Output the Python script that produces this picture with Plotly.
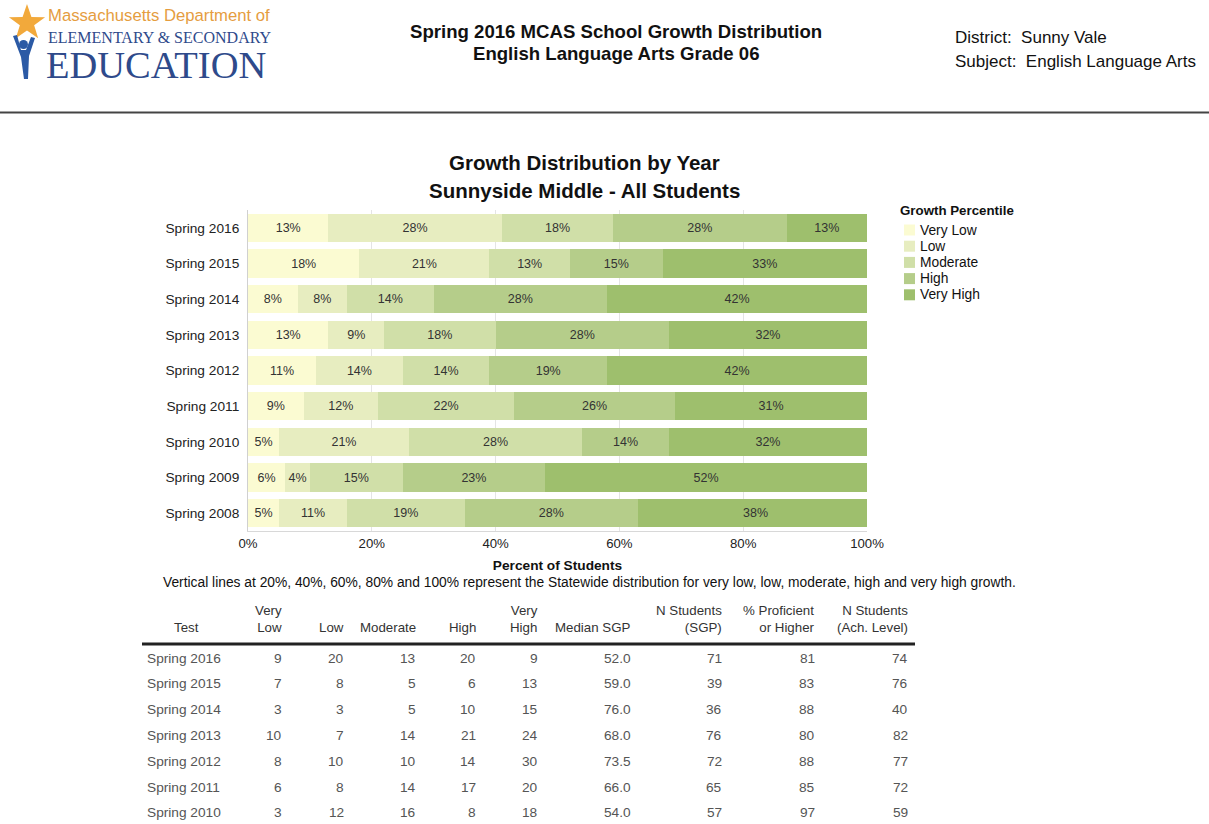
import math
import plotly.graph_objects as go

# ---------------- data ----------------
years = ["Spring 2016", "Spring 2015", "Spring 2014", "Spring 2013", "Spring 2012",
         "Spring 2011", "Spring 2010", "Spring 2009", "Spring 2008"]
growth_levels = ["Very Low", "Low", "Moderate", "High", "Very High"]
pct_very_low = [13, 18, 8, 13, 11, 9, 5, 6, 5]
pct_low = [28, 21, 8, 9, 14, 12, 21, 4, 11]
pct_moderate = [18, 13, 14, 18, 14, 22, 28, 15, 19]
pct_high = [28, 15, 28, 28, 19, 26, 14, 23, 28]
pct_very_high = [13, 33, 42, 32, 42, 31, 32, 52, 38]
x_ticks = [0, 20, 40, 60, 80, 100]

table_tests = ["Spring 2016", "Spring 2015", "Spring 2014", "Spring 2013",
               "Spring 2012", "Spring 2011", "Spring 2010"]
n_very_low = [9, 7, 3, 10, 8, 6, 3]
n_low = [20, 8, 3, 7, 10, 8, 12]
n_moderate = [13, 5, 5, 14, 10, 14, 16]
n_high = [20, 6, 10, 21, 14, 17, 8]
n_very_high = [9, 13, 15, 24, 30, 20, 18]
median_sgp = [52.0, 59.0, 76.0, 68.0, 73.5, 66.0, 54.0]
n_students_sgp = [71, 39, 36, 76, 72, 65, 57]
pct_proficient = [81, 83, 88, 80, 88, 85, 97]
n_students_ach = [74, 76, 40, 82, 77, 72, 59]
table_headers = ["Test", "Very<br>Low", "Low", "Moderate", "High", "Very<br>High",
                 "Median SGP", "N Students<br>(SGP)", "% Proficient<br>or Higher",
                 "N Students<br>(Ach. Level)"]

# ---------------- style ----------------
W, H = 1209, 824
colors = ["#fbfbd2", "#e7edc0", "#d0dfa8", "#b5cd8a", "#9ebf6d"]
FONT = "Arial, Liberation Sans, sans-serif"
SERIF = "Liberation Serif, Times New Roman, serif"


def px(x):
    return x / W


def py(y):
    return 1 - y / H


fig = go.Figure()

series = [pct_very_low, pct_low, pct_moderate, pct_high, pct_very_high]
for name, vals, col in zip(growth_levels, series, colors):
    fig.add_trace(go.Bar(
        y=years, x=vals, name=name, orientation="h",
        marker=dict(color=col, line=dict(width=0)),
        text=["%d%%" % v for v in vals], texttemplate="%{text}",
        textposition="inside", insidetextanchor="middle",
        textangle=0, constraintext="none",
        textfont=dict(family=FONT, size=12.5, color="#333333"),
        hoverinfo="skip", showlegend=False,
    ))

# invisible trace defining the table axes
fig.add_trace(go.Scatter(x=[0] * len(table_tests), y=table_tests, mode="markers",
                         marker=dict(opacity=0), xaxis="x2", yaxis="y2",
                         showlegend=False, hoverinfo="skip"))

# table geometry (style)
row_px = 25.8
tbl_top_px = 645
first_row_px = 658
y2_top = -(first_row_px - tbl_top_px) / row_px
y2_bottom = y2_top + (H - tbl_top_px) / row_px
col_right = [283, 345, 417, 477, 539, 632, 723, 816, 909]
test_left = 145

annotations = []
cell_font = dict(family=FONT, size=13.7, color="#555555")
columns = [n_very_low, n_low, n_moderate, n_high, n_very_high,
           ["%.1f" % v for v in median_sgp], n_students_sgp, pct_proficient, n_students_ach]
for i, t in enumerate(table_tests):
    annotations.append(dict(xref="x2", yref="y2", x=test_left, y=t, text=t, showarrow=False,
                            xanchor="left", yanchor="middle", font=cell_font))
    for cx, col in zip(col_right, columns):
        annotations.append(dict(xref="x2", yref="y2", x=cx + 1, y=t, text=str(col[i]),
                                showarrow=False, xanchor="right", yanchor="middle",
                                font=cell_font))

hdr_font = dict(family=FONT, size=13.3, color="#333333")
annotations.append(dict(xref="x2", yref="paper", x=186, y=py(637), text=table_headers[0],
                        showarrow=False, xanchor="center", yanchor="bottom", font=hdr_font))
for cx, h in zip(col_right, table_headers[1:]):
    annotations.append(dict(xref="x2", yref="paper", x=cx + 1, y=py(637), text=h, align="right",
                            showarrow=False, xanchor="right", yanchor="bottom", font=hdr_font))

# custom legend (tight spacing like the reference)
leg_font = dict(family=FONT, size=13.8, color="#111111")
annotations.append(dict(xref="paper", yref="paper", x=px(898), y=py(211),
                        text="<b>Growth Percentile</b>", showarrow=False,
                        xanchor="left", yanchor="middle",
                        font=dict(family=FONT, size=13.3, color="#111111")))
leg_shapes = []
for k, (name, col) in enumerate(zip(growth_levels, colors)):
    yc = 230 + k * 16.2
    leg_shapes.append(dict(type="rect", xref="paper", yref="paper",
                           x0=px(904), x1=px(915), y0=py(yc + 5.5), y1=py(yc - 5.5),
                           fillcolor=col, line=dict(width=0)))
    annotations.append(dict(xref="paper", yref="paper", x=px(918), y=py(yc), text=name,
                            showarrow=False, xanchor="left", yanchor="middle", font=leg_font))

# page header texts
annotations += [
    dict(xref="paper", yref="paper", x=px(46), y=py(15), text="Massachusetts Department of",
         showarrow=False, xanchor="left", yanchor="middle",
         font=dict(family=FONT, size=16.7, color="#e59d3f")),
    dict(xref="paper", yref="paper", x=px(46), y=py(37), text="ELEMENTARY &amp; SECONDARY",
         showarrow=False, xanchor="left", yanchor="middle",
         font=dict(family=SERIF, size=16, color="#2e4a8b")),
    dict(xref="paper", yref="paper", x=px(44), y=py(65), text="EDUCATION",
         showarrow=False, xanchor="left", yanchor="middle",
         font=dict(family=SERIF, size=38.5, color="#2e4a8b")),
    dict(xref="paper", yref="paper", x=px(616), y=py(31),
         text="<b>Spring 2016 MCAS School Growth Distribution</b>",
         showarrow=False, xanchor="center", yanchor="middle",
         font=dict(family=FONT, size=18.6, color="#111111")),
    dict(xref="paper", yref="paper", x=px(616), y=py(53),
         text="<b>English Language Arts Grade 06</b>",
         showarrow=False, xanchor="center", yanchor="middle",
         font=dict(family=FONT, size=18.6, color="#111111")),
    dict(xref="paper", yref="paper", x=px(953), y=py(38), text="District:  Sunny Vale",
         showarrow=False, xanchor="left", yanchor="middle",
         font=dict(family=FONT, size=17, color="#111111")),
    dict(xref="paper", yref="paper", x=px(953), y=py(62), text="Subject:  English Language Arts",
         showarrow=False, xanchor="left", yanchor="middle",
         font=dict(family=FONT, size=17, color="#111111")),
    dict(xref="paper", yref="paper", x=px(584), y=py(163),
         text="<b>Growth Distribution by Year</b>",
         showarrow=False, xanchor="center", yanchor="middle",
         font=dict(family=FONT, size=20.5, color="#111111")),
    dict(xref="paper", yref="paper", x=px(584), y=py(190),
         text="<b>Sunnyside Middle - All Students</b>",
         showarrow=False, xanchor="center", yanchor="middle",
         font=dict(family=FONT, size=20.5, color="#111111")),
    dict(xref="paper", yref="paper", x=px(589), y=py(582),
         text="Vertical lines at 20%, 40%, 60%, 80% and 100% represent the Statewide "
              "distribution for very low, low, moderate, high and very high growth.",
         showarrow=False, xanchor="center", yanchor="middle",
         font=dict(family=FONT, size=13.8, color="#111111")),
]

# logo star and figure shapes
cx0, cy0, R, r = 27, 23, 19, 7.5
pts = []
for k in range(10):
    ang = -math.pi / 2 + k * math.pi / 5
    rad = R if k % 2 == 0 else r
    pts.append((px(cx0 + rad * math.cos(ang)), py(cy0 + rad * math.sin(ang))))
star_path = "M " + " L ".join("%.5f,%.5f" % p for p in pts) + " Z"
body = [(13, 36), (17, 35), (21, 50), (26, 50), (31, 37), (35, 38), (29, 56), (28, 79),
        (24, 79), (21, 57)]
body_path = "M " + " L ".join("%.5f,%.5f" % (px(a), py(b)) for a, b in body) + " Z"

shapes = [
    dict(type="path", xref="paper", yref="paper", path=star_path,
         fillcolor="#f2a93b", line=dict(width=0)),
    dict(type="path", xref="paper", yref="paper", path=body_path,
         fillcolor="#2b5aa5", line=dict(width=0)),
    dict(type="circle", xref="paper", yref="paper", x0=px(19), x1=px(28), y0=py(49), y1=py(40),
         fillcolor="#2b5aa5", line=dict(width=0)),
    dict(type="line", xref="paper", yref="paper", x0=0, x1=1, y0=py(112.5), y1=py(112.5),
         line=dict(color="#444444", width=2)),
    dict(type="line", xref="paper", yref="paper", x0=px(142), x1=px(915), y0=py(644), y1=py(644),
         line=dict(color="#222222", width=3)),
] + leg_shapes

fig.update_layout(
    width=W, height=H, margin=dict(l=0, r=0, t=0, b=0, autoexpand=False),
    paper_bgcolor="white", plot_bgcolor="white",
    barmode="stack", bargap=0.21,
    font=dict(family=FONT, size=13, color="#222222"),
    xaxis=dict(domain=[px(248), px(867)], range=[0, 100], tickvals=x_ticks,
               ticktext=["%d%%" % t for t in x_ticks], automargin=False,
               showgrid=True, gridcolor="#e4e4e4", gridwidth=1, zeroline=False,
               showline=True, linecolor="#d8d8d8", linewidth=1,
               tickfont=dict(family=FONT, size=13.2, color="#222222"),
               title=dict(text="<b>Percent of Students</b>", standoff=10,
                          font=dict(family=FONT, size=13.7, color="#111111")),
               fixedrange=True),
    yaxis=dict(domain=[py(531), py(210)], categoryorder="array", categoryarray=years,
               autorange="reversed", showgrid=False, zeroline=False, automargin=False,
               showline=True, linecolor="#d0d0d0", linewidth=1, ticklabelstandoff=5,
               tickfont=dict(family=FONT, size=13.7, color="#222222"), fixedrange=True),
    xaxis2=dict(domain=[0, 1], range=[0, W], visible=False, anchor="y2", fixedrange=True,
                automargin=False),
    yaxis2=dict(domain=[0, py(tbl_top_px)], type="category", range=[y2_bottom, y2_top],
                visible=False, anchor="x2", fixedrange=True, automargin=False),
    showlegend=False,
    annotations=annotations,
    shapes=shapes,
)

fig.write_html("out.html")
